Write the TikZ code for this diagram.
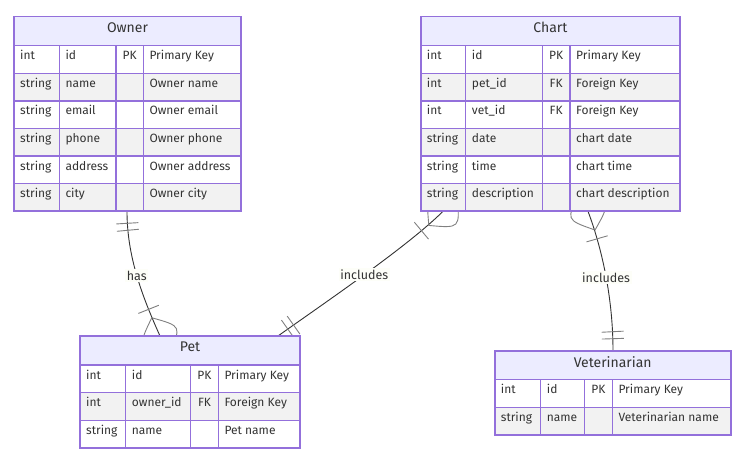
\documentclass[tikz,border=0pt]{standalone}
\usepackage{fontspec}
\setsansfont{Fira Sans}
\usetikzlibrary{decorations.markings}

\definecolor{erpurple}{HTML}{9370DB}
\definecolor{erhead}{HTML}{ECECFF}
\definecolor{errow}{HTML}{F2F2F2}
\definecolor{ertext}{HTML}{333333}
\definecolor{relline}{HTML}{333333}
\definecolor{relmark}{HTML}{808080}
\definecolor{labelbg}{HTML}{FDFEF8}

\pgfdeclarelayer{bg}
\pgfsetlayers{bg,main}

\tikzset{
  ercell/.style={inner sep=0pt, anchor=base west, text=ertext, font=\sffamily\fontsize{12}{14}\selectfont},
  ertitle/.style={inner sep=0pt, text=ertext, font=\sffamily\fontsize{14}{16}\selectfont},
  erline/.style={draw=erpurple, line width=1.3pt},
  erframe/.style={draw=erpurple, line width=1.6pt, inner sep=0pt, outer sep=0pt, anchor=north west},
  rel/.style={draw=relline, line width=0.9pt},
  relbar/.style={draw=relmark, line width=0.9pt},
  rellabel/.style={fill=labelbg, inner sep=1.5pt, text=ertext, font=\sffamily\fontsize{12.5}{14}\selectfont},
  one start/.style={postaction={decorate, decoration={markings,
      mark=at position 12pt with {\draw[relbar] (0pt,-11pt) -- (0pt,11pt);},
      mark=at position 19pt with {\draw[relbar] (0pt,-11pt) -- (0pt,11pt);}}}},
  one end/.style={postaction={decorate, decoration={markings,
      mark=at position -19pt with {\draw[relbar] (0pt,-11pt) -- (0pt,11pt);},
      mark=at position -12pt with {\draw[relbar] (0pt,-11pt) -- (0pt,11pt);}}}},
  many start/.style={postaction={decorate, decoration={markings,
      mark=at position 0pt with {\draw[relbar] (-20pt,0pt) .. controls (0pt,24pt) .. (20pt,0pt) .. controls (0pt,-24pt) .. (-20pt,0pt);},
      mark=at position 29pt with {\draw[relbar] (0pt,-11pt) -- (0pt,11pt);}}}},
  many end/.style={postaction={decorate, decoration={markings,
      mark=at position -29pt with {\draw[relbar] (0pt,-11pt) -- (0pt,11pt);},
      mark=at position 1 with {\draw[relbar] (-20pt,0pt) .. controls (0pt,24pt) .. (20pt,0pt) .. controls (0pt,-24pt) .. (-20pt,0pt);}}}}
}

% #1 name, #2 left, #3 top, #4 a/b/c/r column lines, #5 rows, #6 title, #7 rows list
\newcommand\erentity[7]{%
  \foreach \a/\b/\c/\r in {#4}{%
    \pgfmathsetmacro\hb{#3+29}
    \pgfmathsetmacro\eb{#3+29+#5*27.6}
    \fill[erhead] (#2,#3) rectangle (\r,\hb);
    \node[ertitle] (#1-title) at ({(#2+\r)/2},{#3+11}) {#6};
    \foreach \ty/\nm/\ky/\ds [count=\i] in {#7}{%
      \pgfmathsetmacro\rt{\hb+(\i-1)*27.6}
      \ifodd\i\relax\def\rowfill{white}\else\def\rowfill{errow}\fi
      \fill[\rowfill] (#2,\rt) rectangle (\r,\rt+27.6);
      \draw[erline] (#2,\rt) -- (\r,\rt);
      \node[ercell] (#1-ty\i) at (#2+6,\rt+14) {\ty};
      \node[ercell] (#1-nm\i) at (\a+6,\rt+14) {\nm};
      \node[ercell, anchor=base] (#1-ky\i) at ({(\b+\c)/2},\rt+14) {\ky};
      \node[ercell] (#1-ds\i) at (\c+6,\rt+14) {\ds};
    }
    \draw[erline] (\a,\hb) -- (\a,\eb) (\b,\hb) -- (\b,\eb) (\c,\hb) -- (\c,\eb);
    \node[erframe, minimum width={(\r-#2)*1pt}, minimum height={(\eb-#3)*1pt}] (#1) at (#2,#3) {};
  }
}

\begin{document}
\begin{tikzpicture}[x=1pt, y=-1pt]
  \useasboundingbox (0,0) rectangle (742,465);

  \erentity{owner}{14}{16.7}{59.3/116/143.3/241}{6}{Owner}{%
    int/id/PK/Primary Key, string/name/{}/Owner name, string/email/{}/Owner email,
    string/phone/{}/Owner phone, string/address/{}/Owner address, string/city/{}/Owner city}
  \erentity{chart}{420.7}{16.7}{465.7/542.3/570/680}{6}{Chart}{%
    int/id/PK/Primary Key, int/pet\_id/FK/Foreign Key, int/vet\_id/FK/Foreign Key,
    string/date/{}/chart date, string/time/{}/chart time, string/description/{}/chart description}
  \erentity{pet}{80}{336}{125.7/190.7/218.3/300}{3}{Pet}{%
    int/id/PK/Primary Key, int/owner\_id/FK/Foreign Key, string/name/{}/Pet name}
  \erentity{vet}{494.7}{350.7}{540.7/584.3/612.3/730.7}{2}{Veterinarian}{%
    int/id/PK/Primary Key, string/name/{}/Veterinarian name}

  % attachment points
  \coordinate (ownerS) at ([xshift=113pt]owner.south west);
  \coordinate (petW) at ([xshift=80pt]pet.north west);
  \coordinate (petE) at ([xshift=198pt]pet.north west);
  \coordinate (chartW) at ([xshift=22.3pt]chart.south west);
  \coordinate (chartE) at ([xshift=167.3pt]chart.south west);
  \coordinate (vetN) at ([xshift=118.3pt]vet.north west);

  \begin{pgfonlayer}{bg}
    \draw[rel, one start, many end] (ownerS) .. controls +(0,45) and +(-18,-40) .. node[rellabel, midway] (has) {has} (petW);
    \draw[rel, many start, one end] (chartW) .. controls +(-35,35) and +(45,-32) .. node[rellabel, midway] (incpet) {includes} (petE);
    \draw[rel, many start, one end] (chartE) .. controls +(15,40) and +(0,-50) .. node[rellabel, midway] (incvet) {includes} (vetN);
  \end{pgfonlayer}
\end{tikzpicture}
\end{document}
